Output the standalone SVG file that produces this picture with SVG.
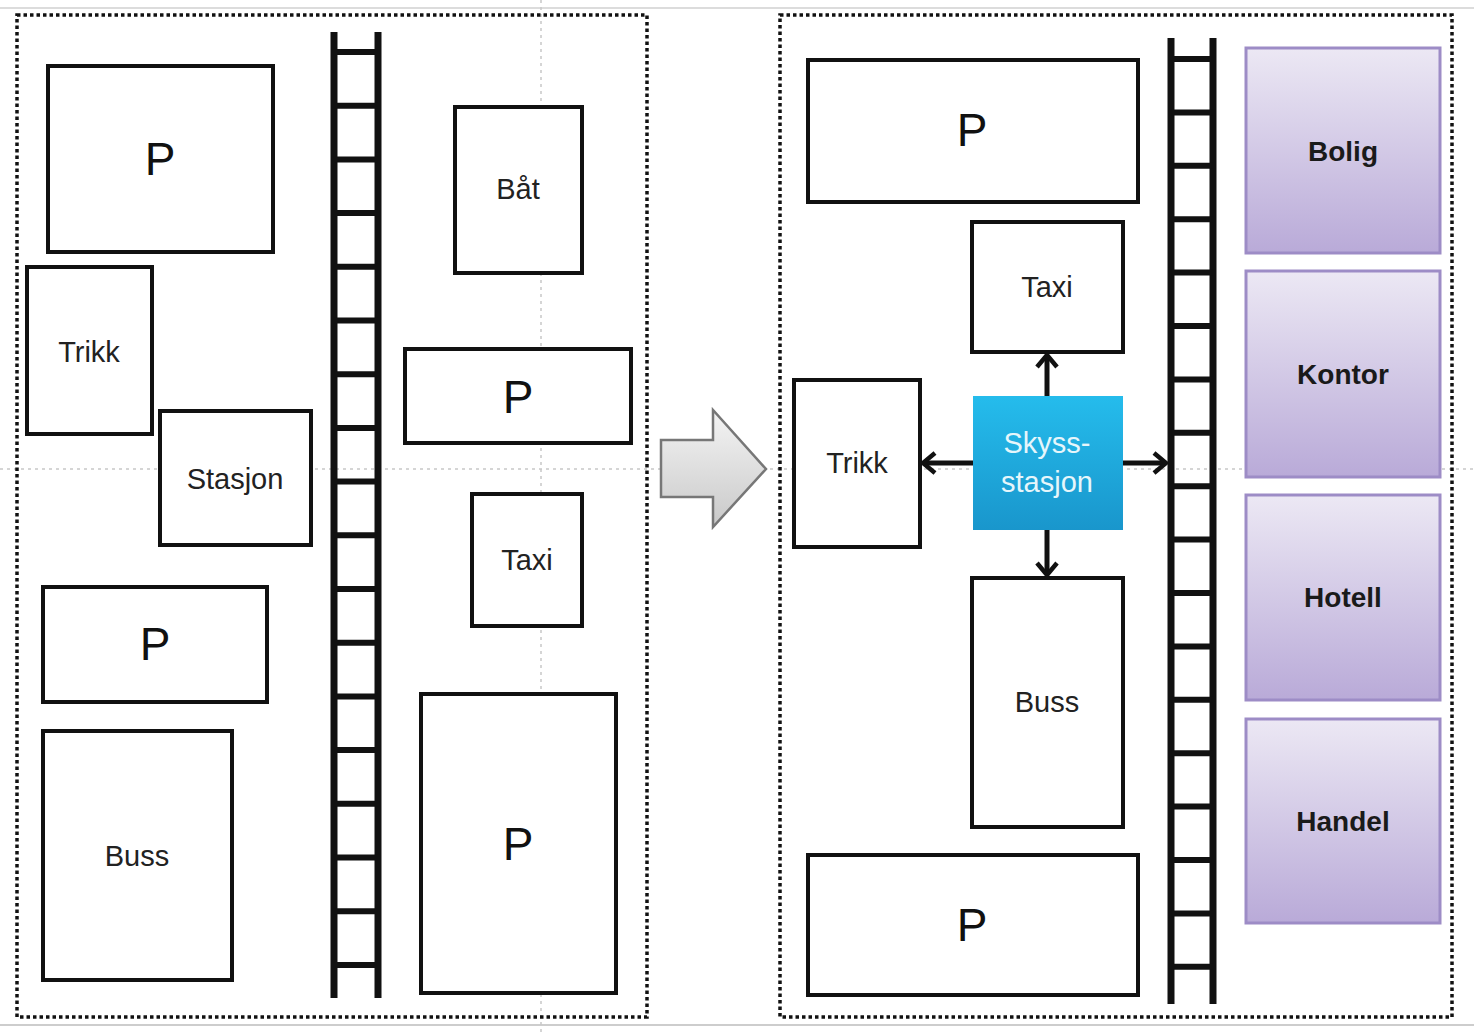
<svg xmlns="http://www.w3.org/2000/svg" width="1474" height="1034" viewBox="0 0 1474 1034">
<defs>
<style>
.box{fill:#fff;stroke:#111;stroke-width:4}
.lbl{font-family:"Liberation Sans",Arial,sans-serif;font-size:29px;fill:#222;text-anchor:middle;dominant-baseline:central}
.p{font-family:"Liberation Sans",Arial,sans-serif;font-size:46px;fill:#111;text-anchor:middle;dominant-baseline:central}
.purple{fill:url(#pg);stroke:#9d8cc6;stroke-width:3}
.plbl{font-family:"Liberation Sans",Arial,sans-serif;font-size:28px;font-weight:bold;fill:#1a1a1a;text-anchor:middle;dominant-baseline:central}
.frame{fill:none;stroke:#111;stroke-width:3.5;stroke-dasharray:3.5 3}
.guide{stroke:#c8c8c8;stroke-width:1.5;stroke-dasharray:3 4}
.rail{stroke:#111;stroke-width:7}
.rung{stroke:#111;stroke-width:6}
.conn{stroke:#111;stroke-width:5;fill:none}
.sk{font-family:"Liberation Sans",Arial,sans-serif;font-size:29px;fill:#e6f6fb;text-anchor:middle;dominant-baseline:central}
</style>
<linearGradient id="pg" x1="0" y1="0" x2="0" y2="1">
<stop offset="0" stop-color="#ece8f4"/>
<stop offset="1" stop-color="#b9aad8"/>
</linearGradient>
<linearGradient id="bg" x1="0" y1="0" x2="0" y2="1">
<stop offset="0" stop-color="#25bcec"/>
<stop offset="1" stop-color="#1996cc"/>
</linearGradient>
<linearGradient id="ag" x1="0" y1="0" x2="0" y2="1">
<stop offset="0" stop-color="#f4f4f4"/>
<stop offset="1" stop-color="#c9c9c9"/>
</linearGradient>
<marker id="ah" viewBox="0 0 16 24" refX="14" refY="12" markerWidth="16" markerHeight="24" markerUnits="userSpaceOnUse" orient="auto">
<polyline points="2,2 14,12 2,22" fill="none" stroke="#111" stroke-width="4.5" stroke-linejoin="miter"/>
</marker>
</defs>
<rect width="1474" height="1034" fill="#fff"/>
<line x1="0" y1="8" x2="1474" y2="8" stroke="#d0d0d0" stroke-width="1.5"/>
<line x1="0" y1="1025" x2="1474" y2="1025" stroke="#bdbdbd" stroke-width="1.5"/>
<line class="guide" x1="0" y1="469" x2="1474" y2="469"/>
<line class="guide" x1="541" y1="0" x2="541" y2="1034"/>
<rect class="frame" x="17" y="15" width="630" height="1002"/>
<rect class="frame" x="780" y="15" width="672" height="1002"/>

<g id="ladder-left">
<line class="rail" x1="334" y1="32" x2="334" y2="998"/>
<line class="rail" x1="378" y1="32" x2="378" y2="998"/>
<g class="rungs">
<line class="rung" x1="334" y1="52" x2="378" y2="52"/>
<line class="rung" x1="334" y1="105.7" x2="378" y2="105.7"/>
<line class="rung" x1="334" y1="159.4" x2="378" y2="159.4"/>
<line class="rung" x1="334" y1="213.1" x2="378" y2="213.1"/>
<line class="rung" x1="334" y1="266.8" x2="378" y2="266.8"/>
<line class="rung" x1="334" y1="320.5" x2="378" y2="320.5"/>
<line class="rung" x1="334" y1="374.2" x2="378" y2="374.2"/>
<line class="rung" x1="334" y1="427.9" x2="378" y2="427.9"/>
<line class="rung" x1="334" y1="481.6" x2="378" y2="481.6"/>
<line class="rung" x1="334" y1="535.3" x2="378" y2="535.3"/>
<line class="rung" x1="334" y1="589" x2="378" y2="589"/>
<line class="rung" x1="334" y1="642.7" x2="378" y2="642.7"/>
<line class="rung" x1="334" y1="696.4" x2="378" y2="696.4"/>
<line class="rung" x1="334" y1="750.1" x2="378" y2="750.1"/>
<line class="rung" x1="334" y1="803.8" x2="378" y2="803.8"/>
<line class="rung" x1="334" y1="857.5" x2="378" y2="857.5"/>
<line class="rung" x1="334" y1="911.2" x2="378" y2="911.2"/>
<line class="rung" x1="334" y1="964.9" x2="378" y2="964.9"/>
</g>
</g>

<g id="ladder-right">
<line class="rail" x1="1171" y1="38" x2="1171" y2="1004"/>
<line class="rail" x1="1213" y1="38" x2="1213" y2="1004"/>
<g class="rungs">
<line class="rung" x1="1171" y1="59" x2="1213" y2="59"/>
<line class="rung" x1="1171" y1="112.4" x2="1213" y2="112.4"/>
<line class="rung" x1="1171" y1="165.8" x2="1213" y2="165.8"/>
<line class="rung" x1="1171" y1="219.2" x2="1213" y2="219.2"/>
<line class="rung" x1="1171" y1="272.6" x2="1213" y2="272.6"/>
<line class="rung" x1="1171" y1="326" x2="1213" y2="326"/>
<line class="rung" x1="1171" y1="379.4" x2="1213" y2="379.4"/>
<line class="rung" x1="1171" y1="432.8" x2="1213" y2="432.8"/>
<line class="rung" x1="1171" y1="486.2" x2="1213" y2="486.2"/>
<line class="rung" x1="1171" y1="539.6" x2="1213" y2="539.6"/>
<line class="rung" x1="1171" y1="593" x2="1213" y2="593"/>
<line class="rung" x1="1171" y1="646.4" x2="1213" y2="646.4"/>
<line class="rung" x1="1171" y1="699.8" x2="1213" y2="699.8"/>
<line class="rung" x1="1171" y1="753.2" x2="1213" y2="753.2"/>
<line class="rung" x1="1171" y1="806.6" x2="1213" y2="806.6"/>
<line class="rung" x1="1171" y1="860" x2="1213" y2="860"/>
<line class="rung" x1="1171" y1="913.4" x2="1213" y2="913.4"/>
<line class="rung" x1="1171" y1="966.8" x2="1213" y2="966.8"/>
</g>
</g>

<g id="left-P1"><rect class="box" x="48" y="66" width="225" height="186"/><text class="p" x="160" y="159">P</text></g>
<g id="left-trikk"><rect class="box" x="27" y="267" width="125" height="167"/><text class="lbl" x="89" y="352">Trikk</text></g>
<g id="left-stasjon"><rect class="box" x="160" y="411" width="151" height="134"/><text class="lbl" x="235" y="479">Stasjon</text></g>
<g id="left-P2"><rect class="box" x="43" y="587" width="224" height="115"/><text class="p" x="155" y="644">P</text></g>
<g id="left-buss"><rect class="box" x="43" y="731" width="189" height="249"/><text class="lbl" x="137" y="856">Buss</text></g>
<g id="left-bat"><rect class="box" x="455" y="107" width="127" height="166"/><text class="lbl" x="518" y="189">Båt</text></g>
<g id="left-P3"><rect class="box" x="405" y="349" width="226" height="94"/><text class="p" x="518" y="397">P</text></g>
<g id="left-taxi"><rect class="box" x="472" y="494" width="110" height="132"/><text class="lbl" x="527" y="560">Taxi</text></g>
<g id="left-P4"><rect class="box" x="421" y="694" width="195" height="299"/><text class="p" x="518" y="844">P</text></g>

<g id="big-arrow">
<polygon points="661,440 713,440 713,410 766,469 713,527 713,497 661,497" fill="url(#ag)" stroke="#777" stroke-width="2.5"/>
</g>

<g id="right-P-top"><rect class="box" x="808" y="60" width="330" height="142"/><text class="p" x="972" y="130">P</text></g>
<g id="right-taxi"><rect class="box" x="972" y="222" width="151" height="130"/><text class="lbl" x="1047" y="287">Taxi</text></g>
<g id="right-trikk"><rect class="box" x="794" y="380" width="126" height="167"/><text class="lbl" x="857" y="463">Trikk</text></g>
<g id="right-buss"><rect class="box" x="972" y="578" width="151" height="249"/><text class="lbl" x="1047" y="702">Buss</text></g>
<g id="right-P-bottom"><rect class="box" x="808" y="855" width="330" height="140"/><text class="p" x="972" y="925">P</text></g>
<g id="skyss">
<rect x="973" y="396" width="150" height="134" fill="url(#bg)"/>
<text class="sk" x="1047" y="443">Skyss-</text>
<text class="sk" x="1047" y="482">stasjon</text>
</g>

<g id="bolig"><rect class="purple" x="1246" y="48" width="194" height="205"/><text class="plbl" x="1343" y="151">Bolig</text></g>
<g id="kontor"><rect class="purple" x="1246" y="271" width="194" height="206"/><text class="plbl" x="1343" y="374">Kontor</text></g>
<g id="hotell"><rect class="purple" x="1246" y="495" width="194" height="205"/><text class="plbl" x="1343" y="597">Hotell</text></g>
<g id="handel"><rect class="purple" x="1246" y="719" width="194" height="204"/><text class="plbl" x="1343" y="821">Handel</text></g>

<g id="connectors">
<line class="conn" x1="1047" y1="396" x2="1047" y2="355" marker-end="url(#ah)"/>
<line class="conn" x1="1047" y1="530" x2="1047" y2="575" marker-end="url(#ah)"/>
<line class="conn" x1="973" y1="463" x2="923" y2="463" marker-end="url(#ah)"/>
<line class="conn" x1="1123" y1="463" x2="1166" y2="463" marker-end="url(#ah)"/>
</g>
</svg>
